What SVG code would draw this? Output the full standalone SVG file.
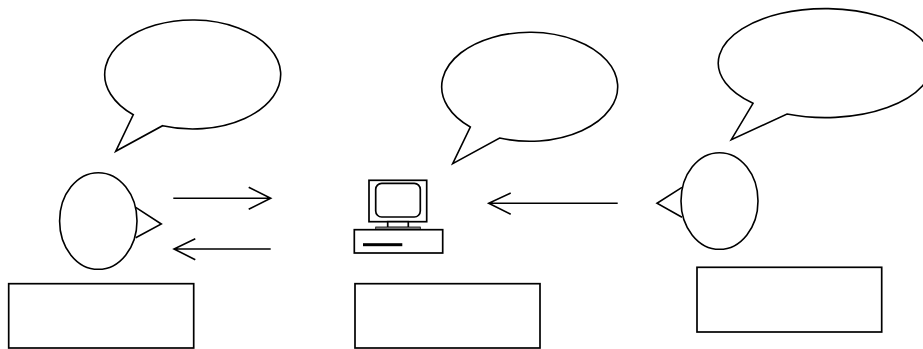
<svg xmlns="http://www.w3.org/2000/svg" width="923" height="349" viewBox="0 0 923 349">
<style>
.s{fill:#fff;stroke:#000;stroke-width:1.6;stroke-linejoin:miter}
.c{fill:none;stroke:#000;stroke-width:1.6;stroke-linejoin:miter}
.b{fill:#fff;stroke:#000;stroke-width:1.7}
</style>
<rect width="923" height="349" fill="#fff"/>
<g id="bubble-left"><path class="s" d="M133.3 114.7A88 54.5 0 1 1 162.6 125.7L115.7 151.3Z"/></g>
<g id="bubble-middle"><path class="s" d="M470.3 127A88 54.5 0 1 1 499.6 138L452.7 163.7Z"/></g>
<g id="bubble-right"><path class="s" d="M753 103.3A107 54.5 0 1 1 787 114L731.3 139.7Z"/></g>
<g id="person-left">
<path class="s" d="M135.7 207.3L161.3 224L135.7 237.7"/>
<ellipse class="s" cx="98.3" cy="221" rx="38.7" ry="48.3"/>
</g>
<g id="person-right">
<path class="s" d="M682 187.3L657 203.3L682 217.3"/>
<ellipse class="s" cx="719.5" cy="201" rx="38.5" ry="48.3"/>
</g>
<g id="computer">
<rect class="b" x="369" y="180.3" width="57.7" height="41.4"/>
<rect class="b" x="375.7" y="183.3" width="44.6" height="33.7" rx="6" ry="6"/>
<rect class="b" x="387.7" y="221.7" width="20.6" height="6"/>
<rect x="375.7" y="227" width="44.6" height="3.7" fill="#888" stroke="#000" stroke-width="0.8"/>
<rect class="b" x="354.3" y="229.7" width="88.4" height="23.3"/>
<rect x="363" y="243.2" width="39.3" height="3" fill="#000"/>
</g>
<g id="box-left"><rect class="b" x="8.7" y="283.7" width="185" height="64.3"/></g>
<g id="box-middle"><rect class="b" x="355" y="283.7" width="185" height="64.3"/></g>
<g id="box-right"><rect class="b" x="697" y="267.3" width="184.7" height="64.7"/></g>
<g id="connectors">
<path class="c" d="M173.3 198.3H270.7M248.7 187.3L270.7 198.3L248.7 209.3"/>
<path class="c" d="M270.7 249H174M195.3 238.7L174 249L195.3 259.7"/>
<path class="c" d="M617.7 203.3H488.7M510.7 193L488.7 203.3L510.7 214.3"/>
</g>
</svg>
